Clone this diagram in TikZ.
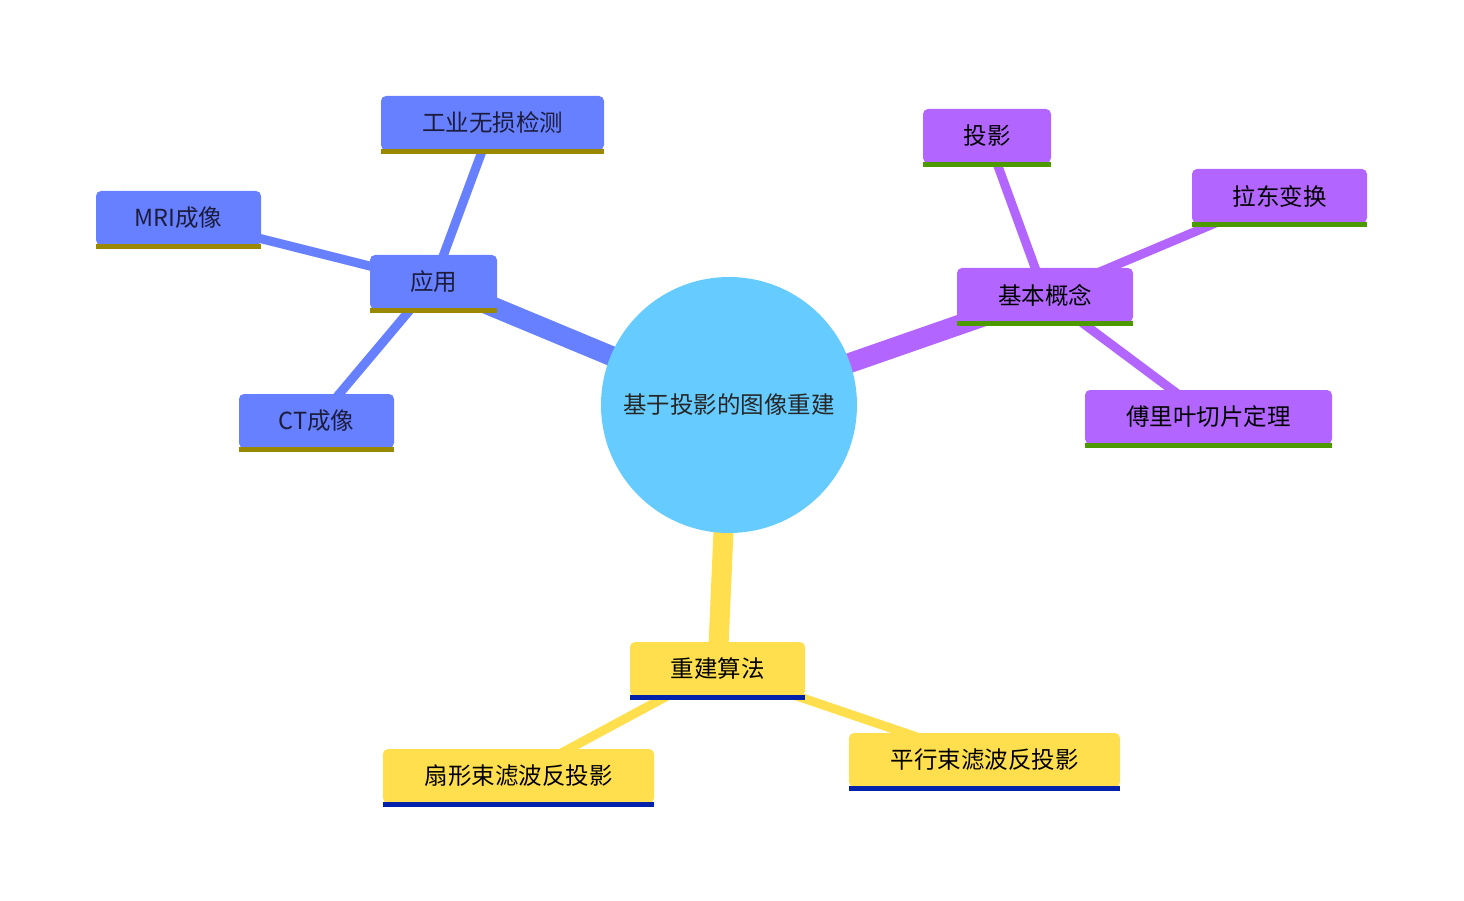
\documentclass[tikz,border=0pt]{standalone}
\usepackage{fontspec}
\setmainfont{Noto Sans CJK SC}
\pgfdeclarelayer{bg}
\pgfsetlayers{bg,main}
\definecolor{cblue}{HTML}{6680FF}
\definecolor{cpurple}{HTML}{B366FF}
\definecolor{cyellow}{HTML}{FFDF4D}
\definecolor{croot}{HTML}{66CCFF}
\definecolor{ublue}{HTML}{998800}
\definecolor{upurple}{HTML}{4C9900}
\definecolor{uyellow}{HTML}{0022AA}
\definecolor{tnavy}{HTML}{1C1C3C}
\tikzset{
  box/.style={rectangle, rounded corners=5pt, inner sep=0pt, minimum height=54pt, font=\fontsize{23.5}{27}\selectfont},
  bbox/.style={box, fill=cblue, text=tnavy},
  pbox/.style={box, fill=cpurple, text=black},
  ybox/.style={box, fill=cyellow, text=black},
  edgeA/.style={line width=20pt},
  edgeB/.style={line width=9pt},
}
\newcommand{\uline}[2]{\fill[#2] ([yshift=1pt]#1.south west) rectangle ([yshift=-4pt]#1.south east);}
\begin{document}
\begin{tikzpicture}[x=1pt,y=-1pt]
\useasboundingbox (0,0) rectangle (1464,901);
\node[circle, fill=croot, minimum size=256pt, inner sep=0pt, text=black!85, font=\fontsize{23.5}{27}\selectfont] (root) at (729,405) {基于投影的图像重建};
% blue
\node[bbox, minimum width=127pt] (app) at (433.5,282) {应用};
\node[bbox, minimum width=223pt] (ind) at (492.5,123) {工业无损检测};
\node[bbox, minimum width=165pt] (mri) at (178.5,218) {MRI成像};
\node[bbox, minimum width=155pt] (ct) at (316.5,421) {CT成像};
% purple
\node[pbox, minimum width=176pt] (basic) at (1045,295) {基本概念};
\node[pbox, minimum width=128pt] (proj) at (987,136) {投影};
\node[pbox, minimum width=175pt] (radon) at (1279.5,196) {拉东变换};
\node[pbox, minimum width=247pt] (fourier) at (1208.5,417) {傅里叶切片定理};
% yellow
\node[ybox, minimum width=175pt] (rec) at (717.5,669) {重建算法};
\node[ybox, minimum width=271pt] (fan) at (518.5,776) {扇形束滤波反投影};
\node[ybox, minimum width=271pt] (par) at (984.5,760) {平行束滤波反投影};
% underlines
\uline{app}{ublue}\uline{ind}{ublue}\uline{mri}{ublue}\uline{ct}{ublue}
\uline{basic}{upurple}\uline{proj}{upurple}\uline{radon}{upurple}\uline{fourier}{upurple}
\uline{rec}{uyellow}\uline{fan}{uyellow}\uline{par}{uyellow}
\begin{pgfonlayer}{bg}
\draw[edgeA, cblue] (root.center) -- (app.center);
\draw[edgeB, cblue] (app.center) -- (ind.center);
\draw[edgeB, cblue] (app.center) -- (mri.center);
\draw[edgeB, cblue] (app.center) -- (ct.center);
\draw[edgeA, cpurple] (root.center) -- (basic.center);
\draw[edgeB, cpurple] (basic.center) -- (proj.center);
\draw[edgeB, cpurple] (basic.center) -- (radon.center);
\draw[edgeB, cpurple] (basic.center) -- (fourier.center);
\draw[edgeA, cyellow] (root.center) -- (rec.center);
\draw[edgeB, cyellow] (rec.center) -- (fan.center);
\draw[edgeB, cyellow] (rec.center) -- (par.center);
\end{pgfonlayer}
\end{tikzpicture}
\end{document}
